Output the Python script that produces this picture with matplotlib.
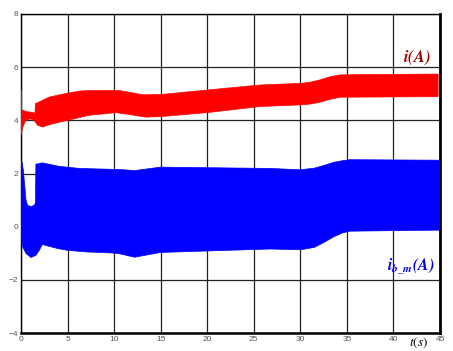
import numpy as np
import matplotlib
matplotlib.use("Agg")
from matplotlib import pyplot as plt

# envelope of the i(A) band (upper / lower edge), time in s
t_i_up = [0, 0.05, 0.2, 0.5, 1.0, 1.43, 1.5, 1.55, 2.0, 3.0, 4.0, 5.0, 6.3, 7.3,
          10.6, 12.0, 13.1, 15, 20, 25.7, 30, 31.0, 32.1, 33.2, 34.3, 40, 44.8]
i_up = [5.15, 4.4, 4.38, 4.33, 4.31, 4.28, 4.25, 4.63, 4.7, 4.87, 4.95, 5.02, 5.1, 5.12,
        5.12, 5.03, 4.96, 4.97, 5.14, 5.33, 5.39, 5.43, 5.52, 5.64, 5.71, 5.73, 5.74]
t_i_lo = [0, 0.2, 0.5, 1.0, 1.4, 1.8, 2.3, 3.4, 5.0, 7.3, 10.2, 12.0, 13.4, 15, 20,
          25.7, 30, 31.0, 32, 33.2, 34.3, 44.8]
i_lo = [3.44, 3.75, 4.0, 4.06, 4.0, 3.81, 3.75, 3.87, 4.0, 4.19, 4.29, 4.2, 4.12, 4.14, 4.29,
        4.52, 4.58, 4.61, 4.67, 4.79, 4.87, 4.89]

# envelope of the ib_m(A) band
t_b_up = [0, 0.1, 0.25, 0.54, 0.7, 1.07, 1.43, 1.55, 1.6, 2.3, 4.1, 6.3, 10.6, 12.2,
          15, 26.8, 30, 31.5, 32.5, 33.6, 34.5, 35.3, 45]
b_up = [2.44, 2.44, 2.12, 1.0, 0.81, 0.75, 0.81, 0.9, 2.35, 2.4, 2.27, 2.19, 2.15, 2.11,
        2.24, 2.19, 2.14, 2.2, 2.3, 2.42, 2.48, 2.52, 2.5]
t_b_lo = [0, 0.18, 0.54, 1.07, 1.6, 1.96, 2.3, 2.8, 3.9, 5.0, 7.0, 9.8, 10.6, 12.2,
          15, 26.8, 30, 31.5, 32.5, 33.6, 34.5, 35.3, 45]
b_lo = [-0.3, -0.76, -1.01, -1.16, -1.08, -0.89, -0.67, -0.72, -0.82, -0.89, -0.95, -0.99,
        -1.02, -1.15, -0.97, -0.84, -0.87, -0.78, -0.6, -0.38, -0.24, -0.17, -0.13]

xticks = [0, 5, 10, 15, 20, 25, 30, 35, 40, 45]
yticks = [-4, -2, 0, 2, 4, 6, 8]

plt.rcParams['mathtext.fontset'] = 'stix'

fig = plt.figure(figsize=(4.53, 3.51), dpi=100)
ax = fig.add_axes([21 / 453, 1 - 333 / 351, 419 / 453, 319 / 351])

# bands drawn as closed polygons: upper edge forward, lower edge back
ax.fill(np.r_[t_i_up, t_i_lo[::-1]], np.r_[i_up, i_lo[::-1]],
        color='#ff0000', lw=0.5, zorder=3)
ax.fill(np.r_[t_b_up, t_b_lo[::-1]], np.r_[b_up, b_lo[::-1]],
        color='#0000ff', lw=0.5, zorder=3)

ax.set_xlim(0, 45)
ax.set_ylim(-4, 8)
ax.set_xticks(xticks)
ax.set_yticks(yticks)
ax.grid(True, color='#222222', lw=0.9, zorder=1)
ax.set_axisbelow(True)
ax.tick_params(length=0, pad=2, labelsize=6, labelcolor='#555555')
for lab in ax.get_xticklabels() + ax.get_yticklabels():
    lab.set_fontfamily('Liberation Sans')

ax.spines['left'].set_linewidth(1.0)
ax.spines['top'].set_linewidth(1.0)
ax.spines['bottom'].set_linewidth(1.8)
ax.spines['right'].set_linewidth(2.0)

ax.text(44.0, 6.35, r'$\mathbfit{i(A)}$', color='#990000', fontsize=12,
        ha='right', va='center', zorder=4)
ax.text(44.4, -1.5, r'$\mathbfit{i}_{\mathbfit{b\_m}}\mathbfit{(A)}$', color='#0000ee',
        fontsize=11.5, ha='right', va='center', zorder=4)
fig.text(419 / 453, 1 - 343 / 351, r'$\mathit{t(s)}$', fontsize=9.5,
         ha='center', va='center')

plt.savefig('out.png', dpi=100)
